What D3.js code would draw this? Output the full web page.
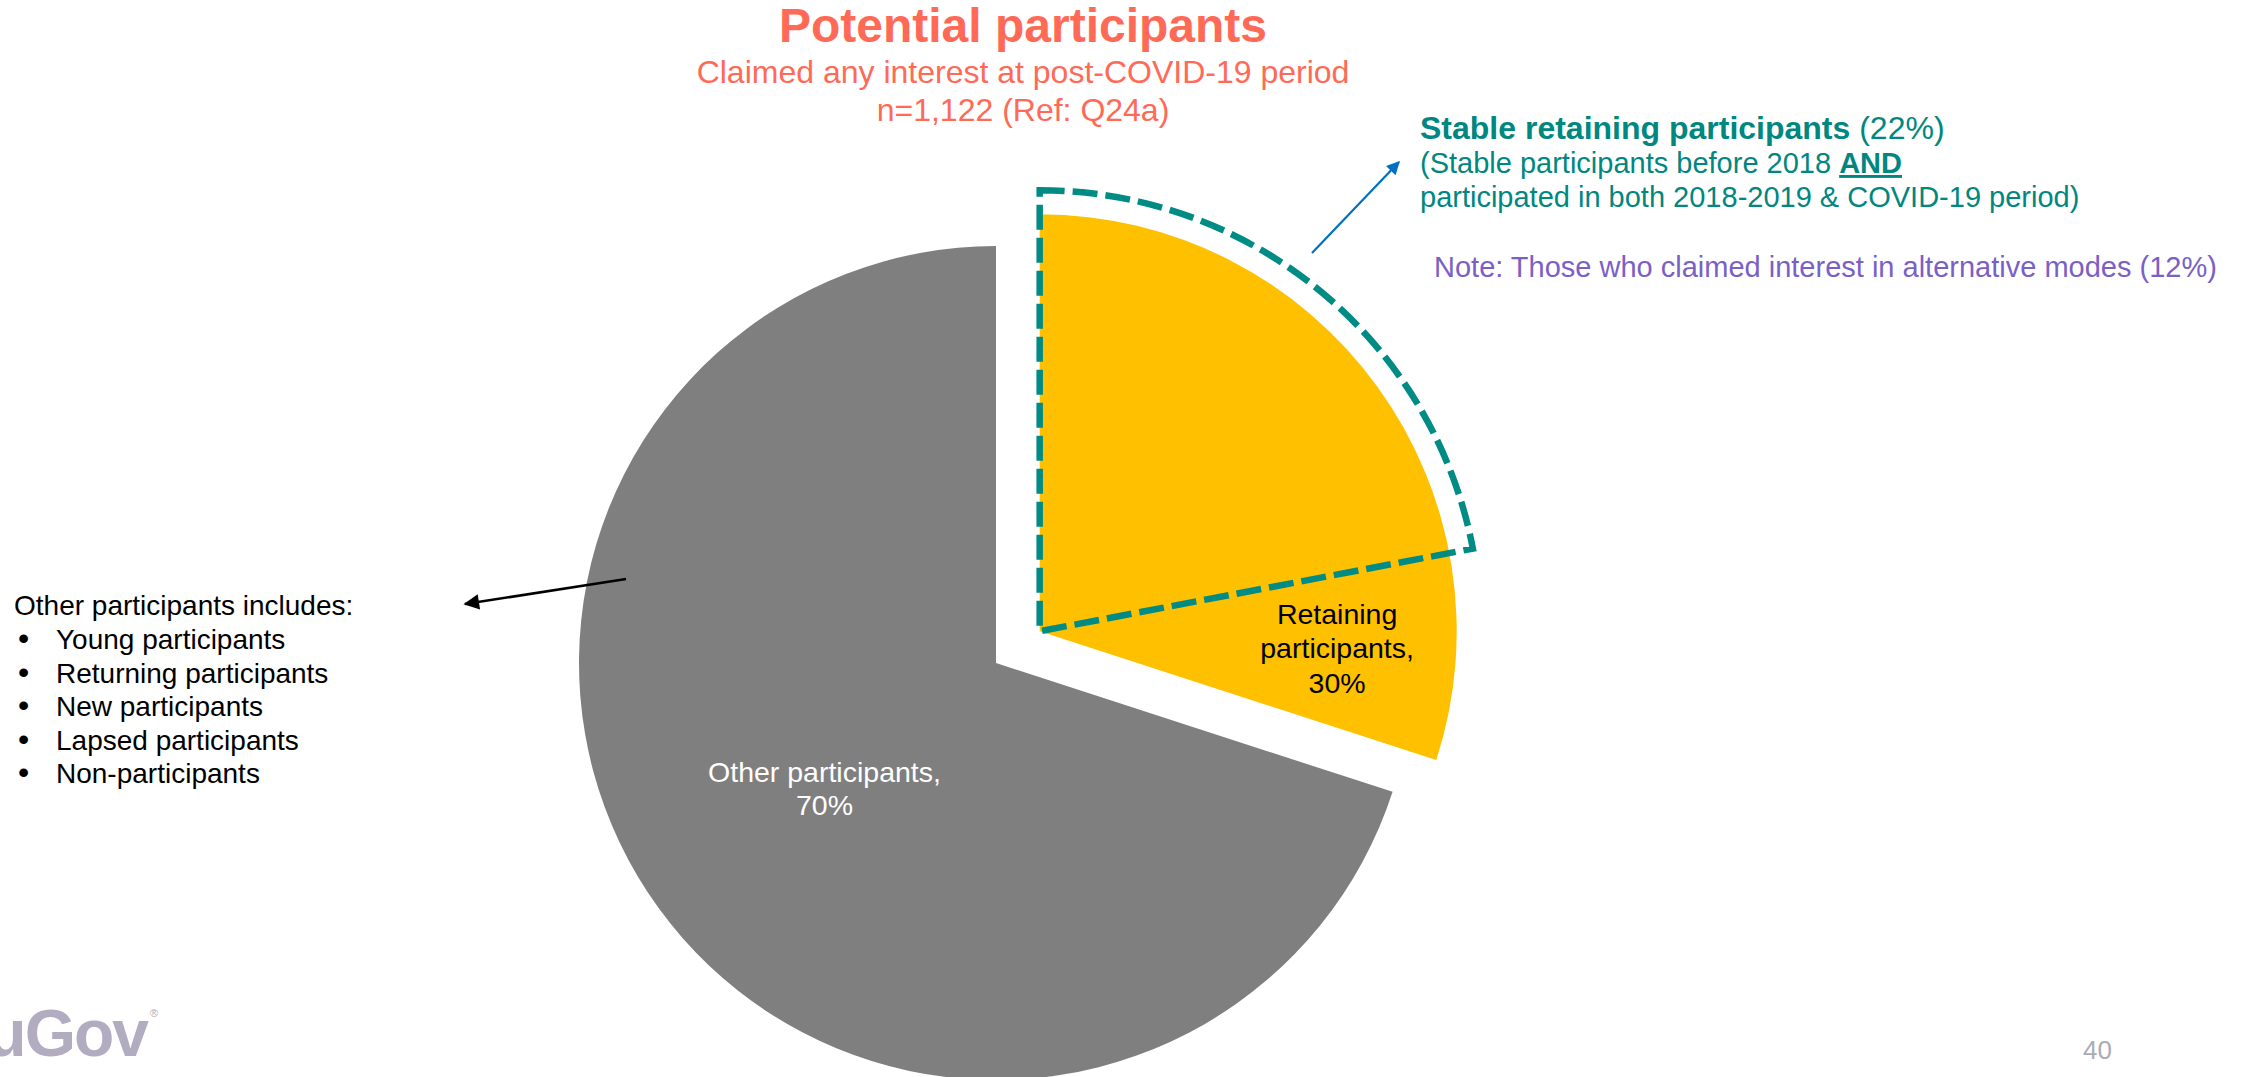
<!DOCTYPE html>
<html><head><meta charset="utf-8">
<script src="https://cdn.jsdelivr.net/npm/d3@7"></script>
<style>
body{margin:0;background:#fff;}
svg{display:block;font-family:"Liberation Sans",Arial,Helvetica,sans-serif;}
</style>
</head><body>
<svg id="chart" width="2249" height="1077"></svg>
<script>
// ---------- data ----------
const categories = ["Retaining participants", "Other participants"];
const values = [30, 70];
const sliceColors = ["#FFC000", "#7F7F7F"];
const stableLabel = "Stable retaining participants";
const stableShare = 22;
const alternativeShare = 12;
const titleText = "Potential participants";
const subtitleLines = ["Claimed any interest at post-COVID-19 period", "n=1,122 (Ref: Q24a)"];
const otherHeader = "Other participants includes:";
const otherGroups = ["Young participants", "Returning participants", "New participants", "Lapsed participants", "Non-participants"];
const pageNumber = "40";

// ---------- layout ----------
const W = 2249, H = 1077;
const svg = d3.select("#chart");
svg.append("rect").attr("width", W).attr("height", H).attr("fill", "#fff");

const defs = svg.append("defs");
defs.append("marker").attr("id", "headBlack").attr("viewBox", "0 0 10 10")
  .attr("refX", 9).attr("refY", 5).attr("markerWidth", 7).attr("markerHeight", 6)
  .attr("markerUnits", "strokeWidth").attr("orient", "auto")
  .append("path").attr("d", "M0,0 L10,5 L0,10 Z").attr("fill", "#000");
defs.append("marker").attr("id", "headBlue").attr("viewBox", "0 0 10 10")
  .attr("refX", 9).attr("refY", 5).attr("markerWidth", 7).attr("markerHeight", 6)
  .attr("markerUnits", "strokeWidth").attr("orient", "auto")
  .append("path").attr("d", "M0,0 L10,5 L0,10 Z").attr("fill", "#0070C0");

const cx = 996, cy = 663, R = 417, explode = 54;
const data = categories.map((c, i) => ({ name: c, value: values[i], color: sliceColors[i] }));
const pie = d3.pie().sort(null).value(d => d.value);
const arcs = pie(data);
const arcGen = d3.arc().innerRadius(0).outerRadius(R);

const pieG = svg.append("g").attr("transform", `translate(${cx},${cy})`);
const offsets = arcs.map((a, i) => {
  if (i !== 0) return [0, 0];
  const m = (a.startAngle + a.endAngle) / 2;
  return [Math.sin(m) * explode, -Math.cos(m) * explode];
});

const sliceG = pieG.selectAll("g.slice").data(arcs).join("g")
  .attr("class", "slice")
  .attr("transform", (d, i) => `translate(${offsets[i][0]},${offsets[i][1]})`);
sliceG.append("path").attr("d", arcGen).attr("fill", d => d.data.color);

// dashed outline for stable retaining participants
const stableArc = d3.arc().innerRadius(0).outerRadius(441)
  .startAngle(arcs[0].startAngle)
  .endAngle(arcs[0].startAngle + 2 * Math.PI * stableShare / 100);
pieG.append("path")
  .attr("transform", `translate(${offsets[0][0]},${offsets[0][1]})`)
  .attr("d", stableArc())
  .attr("fill", "none").attr("stroke", "#008B84").attr("stroke-width", 6.5)
  .attr("stroke-dasharray", "25,8").attr("stroke-linejoin", "miter");

// slice labels
const fs = 29;
{
  const a = arcs[0];
  const s = a.startAngle + 2 * Math.PI * stableShare / 100;
  const c = d3.arc().innerRadius(298).outerRadius(298).startAngle(s).endAngle(a.endAngle).centroid();
  const t = pieG.append("text").attr("text-anchor", "middle").attr("font-size", 28.5).attr("fill", "#000")
    .attr("transform", `translate(${c[0] + offsets[0][0]},${c[1] + offsets[0][1]})`);
  ["Retaining", "participants,", a.data.value + "%"].forEach((l, i) =>
    t.append("tspan").attr("x", 0).attr("y", -26 + i * 34.5).text(l));
}
{
  const a = arcs[1];
  const c = d3.arc().innerRadius(212).outerRadius(212).centroid(a);
  const t = pieG.append("text").attr("text-anchor", "middle").attr("font-size", 28.5).attr("fill", "#fff")
    .attr("transform", `translate(${c[0]},${c[1]})`);
  [a.data.name + ",", a.data.value + "%"].forEach((l, i) =>
    t.append("tspan").attr("x", 0).attr("y", -6 + i * 33.5).text(l));
}

// ---------- titles ----------
const coral = "#FF6A57";
svg.append("text").attr("x", 1023).attr("y", 42).attr("text-anchor", "middle")
  .attr("font-size", 48).attr("font-weight", "bold").attr("fill", coral).text(titleText);
subtitleLines.forEach((l, i) =>
  svg.append("text").attr("x", 1023).attr("y", 83 + i * 38).attr("text-anchor", "middle")
    .attr("font-size", 32).attr("fill", coral).text(l));

// ---------- right annotation ----------
const teal = "#00877F";
const ann = svg.append("text").attr("fill", teal).attr("font-size", fs);
const l1 = ann.append("tspan").attr("x", 1420).attr("y", 139).attr("font-size", 32);
l1.append("tspan").attr("font-weight", "bold").text(stableLabel);
l1.append("tspan").text(` (${stableShare}%)`);
ann.append("tspan").attr("x", 1420).attr("y", 173).text("(Stable participants before 2018 ");
ann.append("tspan").attr("font-weight", "bold").attr("text-decoration", "underline").text("AND");
ann.append("tspan").attr("x", 1420).attr("y", 207).text("participated in both 2018-2019 & COVID-19 period)");

svg.append("text").attr("x", 1434).attr("y", 277).attr("font-size", fs).attr("fill", "#7A5FC7")
  .text(`Note: Those who claimed interest in alternative modes (${alternativeShare}%)`);

svg.append("line").attr("x1", 1312).attr("y1", 253).attr("x2", 1399).attr("y2", 162)
  .attr("stroke", "#0070C0").attr("stroke-width", 2.2).attr("marker-end", "url(#headBlue)");

// ---------- left list ----------
const lfs = 28;
svg.append("line").attr("x1", 626).attr("y1", 579).attr("x2", 465).attr("y2", 604)
  .attr("stroke", "#000").attr("stroke-width", 2.6).attr("marker-end", "url(#headBlack)");
svg.append("text").attr("x", 14).attr("y", 615).attr("font-size", lfs).attr("fill", "#000").text(otherHeader);
otherGroups.forEach((g, i) => {
  const y = 649 + i * 33.5;
  svg.append("text").attr("x", 18).attr("y", y).attr("font-size", 32).attr("fill", "#000").text("\u2022");
  svg.append("text").attr("x", 56).attr("y", y).attr("font-size", lfs).attr("fill", "#000").text(g);
});

// ---------- logo & page number ----------
svg.append("text").attr("x", 147).attr("y", 1056).attr("text-anchor", "end")
  .attr("font-size", 66).attr("font-weight", "bold").attr("fill", "#B1ACC0").attr("letter-spacing", -2).text("YouGov");
svg.append("text").attr("x", 150).attr("y", 1017).attr("font-size", 11).attr("fill", "#B1ACC0").text("\u00AE");
svg.append("text").attr("x", 2083).attr("y", 1059).attr("font-size", 26).attr("fill", "#ABABB5").text(pageNumber);
</script>
</body></html>
